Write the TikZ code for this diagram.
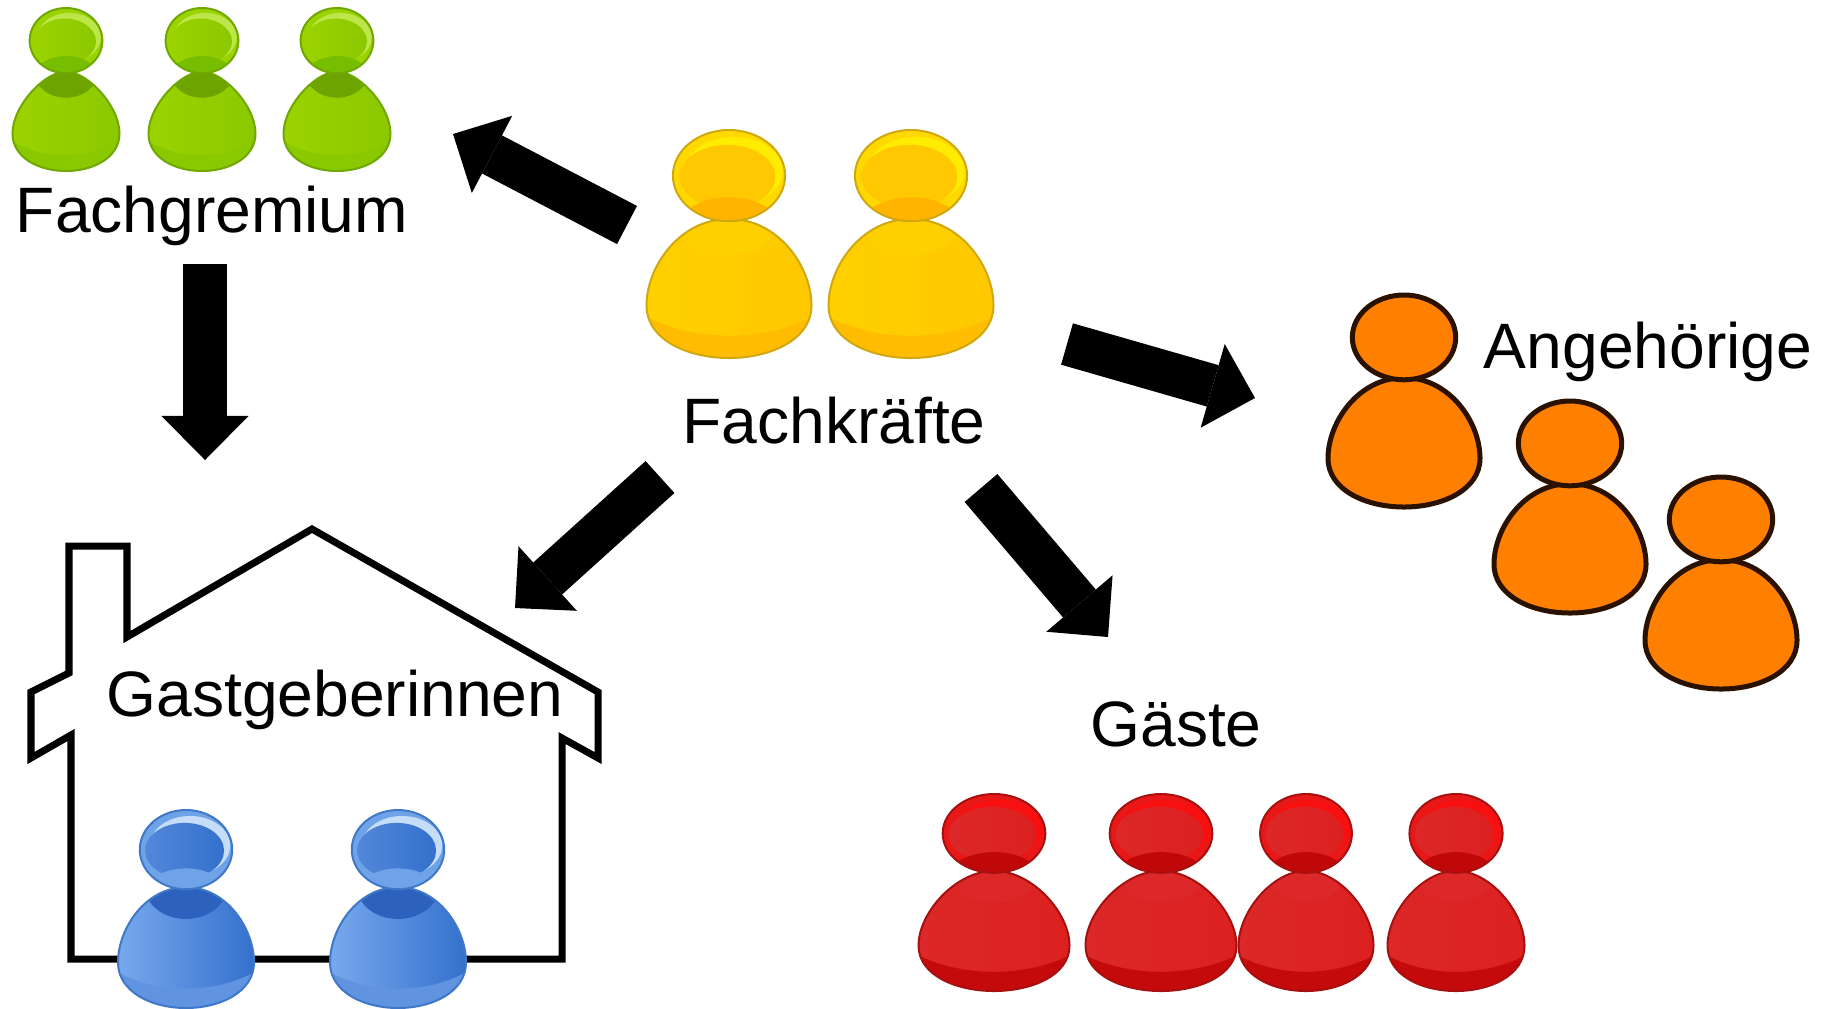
\documentclass[tikz,border=0pt]{standalone}
\usepackage{fontspec}
\setmainfont{Liberation Sans}
\usetikzlibrary{arrows.meta}

\definecolor{greenmain}{HTML}{9BD300}
\definecolor{greenside}{HTML}{8CC800}
\definecolor{greenedge}{HTML}{6FA800}
\definecolor{greenband}{HTML}{8AC800}
\definecolor{greenneck}{HTML}{6EA400}
\definecolor{greenrim}{HTML}{9BD300}
\definecolor{greenshine}{HTML}{BCE64A}
\definecolor{greenface}{HTML}{9BD300}
\definecolor{greenlobe}{HTML}{78BE00}

\definecolor{yellowmain}{HTML}{FFD000}
\definecolor{yellowside}{HTML}{FFC800}
\definecolor{yellowedge}{HTML}{D0A810}
\definecolor{yellowband}{HTML}{FFBC00}
\definecolor{yellowneck}{HTML}{FFD000}
\definecolor{yellowrim}{HTML}{FFD800}
\definecolor{yellowshine}{HTML}{FFEC00}
\definecolor{yellowface}{HTML}{FFC800}
\definecolor{yellowlobe}{HTML}{FFB400}

\definecolor{redmain}{HTML}{DC2828}
\definecolor{redside}{HTML}{DC2020}
\definecolor{rededge}{HTML}{A81010}
\definecolor{redband}{HTML}{C40A0A}
\definecolor{redneck}{HTML}{DC2828}
\definecolor{redrim}{HTML}{E81818}
\definecolor{redshine}{HTML}{F81010}
\definecolor{redface}{HTML}{DC2828}
\definecolor{redlobe}{HTML}{C00808}

\definecolor{bluemain}{HTML}{78A9EE}
\definecolor{blueside}{HTML}{3470CC}
\definecolor{blueedge}{HTML}{3F78C8}
\definecolor{blueband}{HTML}{6094E0}
\definecolor{blueneck}{HTML}{2C62BE}
\definecolor{bluerim}{HTML}{6FA3E8}
\definecolor{blueshine}{HTML}{C5DDF8}
\definecolor{blueface}{HTML}{5288DA}
\definecolor{bluelobe}{HTML}{6FA3E8}

\definecolor{orangemain}{HTML}{FF8000}
\definecolor{orangeedge}{HTML}{2B1200}

\tikzset{
	blockarrow/.style={line width=0.43cm, -{Triangle[length=0.44cm,width=0.87cm,line width=0pt]}},
	houseline/.style={line width=0.07cm, line join=miter, fill=white},
	label/.style={anchor=base, inner sep=0pt, font=\fontsize{18.25}{20}\selectfont},
	thinedge/.style={line width=0.2mm},
	thickedge/.style={line width=0.5mm}
}

\def\shoulder{.3}
\def\bodypath{(0,.39) .. controls (\shoulder,.39) and (.5,.6) .. (.5,.77) .. controls (.5,.92) and (.25,1) .. (0,1) .. controls (-.25,1) and (-.5,.92) .. (-.5,.77) .. controls (-.5,.6) and (-\shoulder,.39) .. (0,.39) -- cycle}
\def\headpath{(0,.2) ellipse (.34 and .2)}

\def\person[#1](#2)(#3:#4){
	\begin{scope}[shift={(#2)}, xscale=#3, yscale=#4]
		\begin{scope}
			\clip \bodypath;
			\shade[left color=#1main, middle color=#1main, right color=#1side] (-.5,.3) rectangle (.5,1);
			\fill[#1neck] (0,.39) ellipse (.3 and .16);
			\fill[#1band] (-.5,.82) .. controls (-.2,.93) and (.2,.93) .. (.5,.82) -- (.5,1) -- (-.5,1) -- cycle;
		\end{scope}
		\draw[#1edge, thinedge] \bodypath;
		\begin{scope}
			\clip \headpath;
			\fill[#1rim] (-.5,0) rectangle (.5,.4);
			\fill[#1shine] (.03,.18) ellipse (.295 and .15);
			\shade[left color=#1face, right color=#1side] (-.01,.205) ellipse (.29 and .14);
			\fill[#1lobe] (0,.42) ellipse (.3 and .125);
		\end{scope}
		\draw[#1edge, thinedge] \headpath;
	\end{scope}
}

\def\plainperson[#1](#2)(#3:#4){
	\begin{scope}[shift={(#2)}, xscale=#3, yscale=#4]
		\filldraw[fill=#1main, draw=#1edge, thickedge] \bodypath;
		\filldraw[fill=#1main, draw=#1edge, thickedge] \headpath;
	\end{scope}
}

\begin{document}
\begin{tikzpicture}[x=0.01cm, y=-0.01cm]
		%%%%% START %%%%%
		\useasboundingbox (0, 0) rectangle (1825, 1008);
		
		% house
		\draw[houseline] (312, 529) -- (127, 637) -- (127, 546) -- (69, 546) -- (69, 673) -- (31, 692) -- (31, 758) -- (71, 735) -- (71, 959) -- (562, 959) -- (562, 738) -- (598, 758) -- (598, 692) -- cycle;
		
		% people
		\def\shoulder{.2}
		\person[green](66, 8)(107:163);
		\person[green](202, 8)(107:163);
		\person[green](337, 8)(107:163);
		\def\shoulder{.3}
		
		\person[yellow](729, 130)(165:228);
		\person[yellow](911, 130)(165:228);
		
		\person[blue](186, 810)(136:198);
		\person[blue](398, 810)(136:198);
		
		\def\shoulder{.25}
		\person[red](994, 794)(151:197);
		\person[red](1161, 794)(151:197);
		\person[red](1306, 794)(135:197);
		\person[red](1456, 794)(137:197);
		\def\shoulder{.3}
		
		\plainperson[orange](1404, 295)(152:212);
		\plainperson[orange](1570, 401)(152:212);
		\plainperson[orange](1721, 477)(152:212);
		
		% labels
		\node[label] (fachgremium) at (212, 232) {Fachgremium};
		\node[label] (fachkraefte) at (834, 443) {Fachkräfte};
		\node[label] (gastgeberinnen) at (335, 716) {Gastgeberinnen};
		\node[label] (angehoerige) at (1648, 368) {Angehörige};
		\node[label] (gaeste) at (1176, 746) {Gäste};
		
		% arrow ends
		\coordinate (fk-fg) at (627, 225);
		\coordinate (fg-top) at (453, 134);
		\coordinate (fg-bottom) at (205, 264);
		\coordinate (house-top) at (205, 460);
		\coordinate (fk-house) at (660, 477);
		\coordinate (house-roof) at (515, 608);
		\coordinate (fk-an) at (1067, 344);
		\coordinate (an-left) at (1255, 398);
		\coordinate (fk-gaeste) at (981, 488);
		\coordinate (gaeste-top) at (1108, 637);
		
		\draw[blockarrow] (fk-fg) -- (fg-top);
		\draw[blockarrow] (fg-bottom) -- (house-top);
		\draw[blockarrow] (fk-house) -- (house-roof);
		\draw[blockarrow] (fk-an) -- (an-left);
		\draw[blockarrow] (fk-gaeste) -- (gaeste-top);
		
		%%%%% END %%%%%
\end{tikzpicture}
\end{document}
